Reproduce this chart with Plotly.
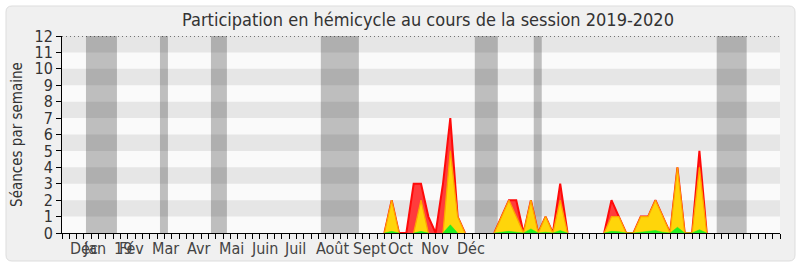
import plotly.graph_objects as go

N_WEEKS = 99  # week indices 0..98

# --- data (sessions per week) ---
red_pts = {45: 2, 48: 3, 49: 3, 50: 1, 52: 3, 53: 7, 54: 1, 60: 1, 61: 2, 62: 2,
           64: 2, 66: 1, 68: 3, 75: 2, 76: 1, 79: 1, 80: 1, 81: 2, 82: 1, 84: 4, 87: 5}
yellow_pts = {45: 2, 49: 2, 53: 5, 54: 1, 60: 1, 61: 2, 62: 1, 64: 2, 66: 1, 68: 2,
              75: 1, 76: 1, 79: 1, 80: 1, 81: 2, 82: 1, 84: 4, 87: 4}
green_pts = {45: 0.1, 49: 0.1, 53: 0.5, 60: 0.05, 61: 0.1, 62: 0.05, 64: 0.25, 66: 0.05,
             68: 0.15, 75: 0.1, 76: 0.08, 79: 0.05, 80: 0.1, 81: 0.15, 82: 0.05, 84: 0.35, 87: 0.2}

weeks = list(range(N_WEEKS))
red = [red_pts.get(w, 0) for w in weeks]
yellow = [yellow_pts.get(w, 0) for w in weeks]
green = [green_pts.get(w, 0) for w in weeks]

# vacation periods (in week units)
vacations = [(3.27, 7.5), (13.37, 14.46), (20.33, 22.51), (35.33, 40.52),
             (56.34, 59.48), (64.39, 65.48), (89.36, 93.45)]

# month labels and their left start (week units)
month_labels = ["Déc", "Jan", "19", "Fév", "Mar", "Avr", "Mai", "Juin", "Juil",
                "Août", "Sept", "Oct", "Nov", "Déc"]
month_starts = [0.8, 2.6, 6.8, 7.5, 12.0, 16.8, 21.1, 25.5, 30.0,
                34.4, 39.4, 44.2, 48.7, 53.6]


def trim(vals):
    """Hide long runs of zeros so no outline is drawn along the baseline."""
    out = []
    n = len(vals)
    for i, v in enumerate(vals):
        left = vals[i - 1] if i > 0 else 0
        right = vals[i + 1] if i < n - 1 else 0
        out.append(None if (v == 0 and left == 0 and right == 0) else v)
    return out


FONT = "DejaVu Sans Condensed, DejaVu Sans, sans-serif"

fig = go.Figure()
fig.add_trace(go.Scatter(x=weeks, y=trim(red), mode="lines", fill="tozeroy",
                         fillcolor="#ff3c3c", line=dict(color="#ff0a0a", width=2),
                         connectgaps=False, hoverinfo="skip"))
fig.add_trace(go.Scatter(x=weeks, y=trim(yellow), mode="lines", fill="tozeroy",
                         fillcolor="#ffd50a", line=dict(color="#ffa500", width=1.3),
                         connectgaps=False, hoverinfo="skip"))
fig.add_trace(go.Scatter(x=weeks, y=trim(green), mode="lines", fill="tozeroy",
                         fillcolor="#22ee22", line=dict(color="#22ee22", width=0.5),
                         connectgaps=False, hoverinfo="skip"))

# geometry helpers for paper-relative panel
W, H = 800, 267
pl, pr, pt, pb = 62, 20, 36, 34
pw, ph = W - pl - pr, H - pt - pb
def px(x): return (x - pl) / pw
def py(y): return (H - pb - y) / ph
x0, y0, x1, y1, r = 6, 6, 795, 261, 6
panel = (f"M {px(x0+r)} {py(y0)} L {px(x1-r)} {py(y0)} Q {px(x1)} {py(y0)} {px(x1)} {py(y0+r)} "
         f"L {px(x1)} {py(y1-r)} Q {px(x1)} {py(y1)} {px(x1-r)} {py(y1)} "
         f"L {px(x0+r)} {py(y1)} Q {px(x0)} {py(y1)} {px(x0)} {py(y1-r)} "
         f"L {px(x0)} {py(y0+r)} Q {px(x0)} {py(y0)} {px(x0+r)} {py(y0)} Z")

shapes = [dict(type="path", xref="paper", yref="paper", path=panel, layer="below",
               fillcolor="#f0f0f0", line=dict(color="#dddddd", width=1)),
          dict(type="rect", xref="x", yref="y", x0=0, x1=N_WEEKS - 1, y0=0, y1=12,
               fillcolor="#fafafa", line=dict(width=0), layer="below")]
for k in range(1, 12, 2):
    shapes.append(dict(type="rect", xref="x", yref="y", x0=0, x1=N_WEEKS - 1, y0=k, y1=k + 1,
                       fillcolor="#e6e6e6", line=dict(width=0), layer="below"))
for a, b in vacations:
    shapes.append(dict(type="rect", xref="x", yref="y", x0=a, x1=b, y0=0, y1=12,
                       fillcolor="rgba(0,0,0,0.24)", line=dict(width=0), layer="below"))
shapes.append(dict(type="line", xref="x", yref="y", x0=0, x1=N_WEEKS - 1, y0=12, y1=12,
                   line=dict(color="black", width=1, dash="1px,3px"), layer="above"))

annotations = []
for lab, s in zip(month_labels, month_starts):
    annotations.append(dict(x=s, y=0, xref="x", yref="y", text=lab, showarrow=False,
                            xanchor="left", yanchor="top", yshift=-4,
                            font=dict(family=FONT, size=16, color="#444")))

fig.update_layout(
    width=800, height=267,
    margin=dict(l=62, r=20, t=36, b=34),
    paper_bgcolor="white",
    plot_bgcolor="#fafafa",
    showlegend=False,
    title=dict(text="Participation en hémicycle au cours de la session 2019-2020",
               x=0.535, xanchor="center", y=0.925, yanchor="middle",
               font=dict(family=FONT, size=18, color="#333")),
    shapes=shapes,
    annotations=annotations,
    xaxis=dict(range=[0, N_WEEKS - 1], showgrid=False, zeroline=False,
               showline=True, linecolor="black", linewidth=1,
               ticks="outside", ticklen=5, tickcolor="black", dtick=1, tick0=0,
               showticklabels=False, fixedrange=True),
    yaxis=dict(range=[0, 12], showgrid=False, zeroline=False,
               showline=True, linecolor="black", linewidth=1,
               ticks="outside", ticklen=5, tickcolor="black", dtick=1, tick0=0,
               tickfont=dict(family=FONT, size=16, color="#333"),
               title=dict(text="Séances par semaine", standoff=8,
                          font=dict(family=FONT, size=15, color="#333")),
               fixedrange=True),
)

fig.write_html("out.html")
